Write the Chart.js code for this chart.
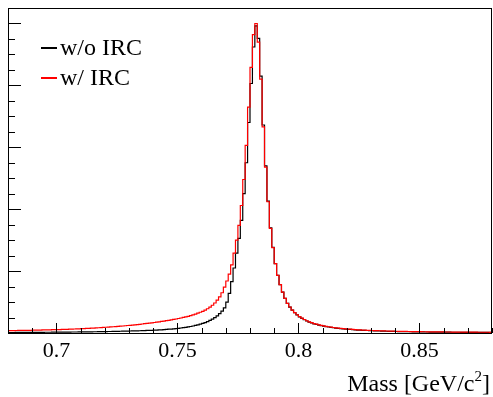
<!DOCTYPE html>
<html lang="en">
<head>
  <meta charset="UTF-8" />
  <title>Mass spectrum, w/o and w/ IRC</title>
  <script src="https://cdn.jsdelivr.net/npm/chart.js"></script>
  <style>
    body { margin: 0; background: #fff; }
    canvas { display: block; }
  </style>
</head>
<body>
  <canvas id="mass-chart" width="493" height="397"></canvas>

  <script>
    // histogram range: 200 bins of 1 MeV between 0.68 and 0.88 GeV
    const massMin = 0.68;
    const massMax = 0.88;
    const binWidth = 0.001;

    const xTickValues = [0.7, 0.75, 0.8, 0.85];
    const xTickLabels = ["0.7", "0.75", "0.8", "0.85"];
    const seriesNames = ["w/o IRC", "w/ IRC"];
    const axisTitle = "Mass [GeV/c";

    // bin contents (arbitrary units)
    const withoutIRC = [
      0.008, 0.008, 0.008, 0.009, 0.009, 0.009, 0.009, 0.010, 0.010, 0.010,
      0.010, 0.011, 0.011, 0.011, 0.011, 0.012, 0.012, 0.012, 0.013, 0.013,
      0.013, 0.014, 0.014, 0.014, 0.015, 0.015, 0.016, 0.016, 0.016, 0.017,
      0.017, 0.018, 0.018, 0.019, 0.019, 0.020, 0.020, 0.021, 0.022, 0.022,
      0.023, 0.024, 0.024, 0.025, 0.026, 0.027, 0.028, 0.029, 0.030, 0.031,
      0.032, 0.033, 0.034, 0.035, 0.036, 0.038, 0.039, 0.041, 0.042, 0.044,
      0.046, 0.048, 0.050, 0.052, 0.055, 0.058, 0.061, 0.064, 0.068, 0.072,
      0.076, 0.081, 0.086, 0.092, 0.098, 0.105, 0.113, 0.122, 0.132, 0.143,
      0.155, 0.169, 0.185, 0.203, 0.224, 0.248, 0.277, 0.312, 0.354, 0.405,
      0.500, 0.640, 0.830, 1.050, 1.290, 1.530, 1.820, 2.250, 2.750, 3.400,
      4.030, 4.620, 4.960, 4.760, 4.150, 3.360, 2.700, 2.130, 1.700, 1.385,
      1.120, 0.930, 0.780, 0.660, 0.560, 0.478, 0.418, 0.368, 0.327, 0.292,
      0.262, 0.236, 0.214, 0.194, 0.177, 0.162, 0.149, 0.138, 0.128, 0.119,
      0.111, 0.104, 0.097, 0.091, 0.085, 0.080, 0.075, 0.071, 0.067, 0.063,
      0.060, 0.057, 0.054, 0.051, 0.048, 0.046, 0.044, 0.042, 0.040, 0.038,
      0.036, 0.035, 0.033, 0.032, 0.030, 0.029, 0.028, 0.027, 0.026, 0.025,
      0.024, 0.023, 0.022, 0.022, 0.021, 0.020, 0.020, 0.019, 0.018, 0.018,
      0.017, 0.017, 0.016, 0.016, 0.015, 0.015, 0.015, 0.014, 0.014, 0.014,
      0.013, 0.013, 0.013, 0.012, 0.012, 0.012, 0.012, 0.011, 0.011, 0.011,
      0.011, 0.010, 0.010, 0.010, 0.010, 0.010, 0.009, 0.009, 0.009, 0.009
    ];

    const withIRC = [
      0.038, 0.039, 0.039, 0.040, 0.041, 0.041, 0.042, 0.043, 0.043, 0.044,
      0.045, 0.046, 0.047, 0.048, 0.049, 0.050, 0.051, 0.052, 0.053, 0.054,
      0.055, 0.056, 0.058, 0.059, 0.060, 0.062, 0.063, 0.065, 0.066, 0.068,
      0.070, 0.072, 0.074, 0.076, 0.078, 0.080, 0.082, 0.085, 0.087, 0.090,
      0.093, 0.095, 0.098, 0.101, 0.104, 0.107, 0.110, 0.113, 0.117, 0.121,
      0.124, 0.128, 0.132, 0.136, 0.140, 0.145, 0.150, 0.155, 0.160, 0.165,
      0.170, 0.175, 0.181, 0.187, 0.193, 0.199, 0.205, 0.212, 0.219, 0.226,
      0.234, 0.242, 0.251, 0.260, 0.270, 0.281, 0.293, 0.306, 0.320, 0.335,
      0.350, 0.370, 0.392, 0.418, 0.448, 0.485, 0.530, 0.585, 0.650, 0.740,
      0.840, 0.950, 1.100, 1.290, 1.500, 1.740, 2.060, 2.480, 3.030, 3.650,
      4.290, 4.820, 5.000, 4.700, 4.100, 3.330, 2.680, 2.120, 1.690, 1.380,
      1.120, 0.930, 0.780, 0.660, 0.560, 0.480, 0.420, 0.370, 0.330, 0.295,
      0.265, 0.240, 0.218, 0.198, 0.181, 0.166, 0.153, 0.142, 0.132, 0.123,
      0.115, 0.108, 0.101, 0.095, 0.089, 0.084, 0.079, 0.075, 0.071, 0.067,
      0.064, 0.061, 0.058, 0.055, 0.052, 0.050, 0.048, 0.046, 0.044, 0.042,
      0.040, 0.039, 0.037, 0.036, 0.034, 0.033, 0.032, 0.031, 0.030, 0.029,
      0.028, 0.027, 0.026, 0.025, 0.025, 0.024, 0.023, 0.023, 0.022, 0.021,
      0.021, 0.020, 0.020, 0.019, 0.019, 0.018, 0.018, 0.017, 0.017, 0.017,
      0.016, 0.016, 0.016, 0.015, 0.015, 0.015, 0.014, 0.014, 0.014, 0.014,
      0.013, 0.013, 0.013, 0.013, 0.012, 0.012, 0.012, 0.012, 0.012, 0.011
    ];

    const yMax = 5.25;
    const serif = '"Liberation Serif", "Times New Roman", serif';
    const seriesColors = ["#000000", "#ff0000"];

    // step outline: one point per lower bin edge, plus the upper edge of the last bin
    function histPoints(values) {
      const pts = values.map((v, i) => ({ x: massMin + i * binWidth, y: v }));
      pts.push({ x: massMax, y: values[values.length - 1] });
      return pts;
    }

    // ROOT style frame: box, inward ticks, serif labels, legend in the corner
    const rootFrame = {
      id: "rootFrame",
      afterDraw(chart) {
        const { ctx, chartArea: a, scales: { x, y } } = chart;
        ctx.save();
        ctx.strokeStyle = "#000";
        ctx.lineWidth = 1;
        ctx.strokeRect(a.left + 0.5, a.top + 0.5, a.right - a.left - 1, a.bottom - a.top);

        ctx.beginPath();
        for (let i = 0; i <= 20; i++) {
          const px = Math.round(x.getPixelForValue(massMin + i * 0.01)) + 0.5;
          const len = (i + 3) % 5 === 0 ? 10 : 5;
          ctx.moveTo(px, a.bottom);
          ctx.lineTo(px, a.bottom - len);
        }
        for (let i = 0; i <= 21; i++) {
          const py = Math.round(y.getPixelForValue(i * 0.25)) + 0.5;
          const len = i % 4 === 0 ? 13 : 7;
          ctx.moveTo(a.left, py);
          ctx.lineTo(a.left + len, py);
        }
        ctx.stroke();

        ctx.fillStyle = "#000";
        ctx.font = "22px " + serif;
        ctx.textAlign = "center";
        ctx.textBaseline = "alphabetic";
        xTickValues.forEach((v, i) => {
          ctx.fillText(xTickLabels[i], x.getPixelForValue(v), 357);
        });

        // axis title, right aligned, with a raised 2
        ctx.textAlign = "right";
        ctx.font = "24px " + serif;
        let tx = a.right - 2;
        ctx.fillText("]", tx, 391);
        tx -= ctx.measureText("]").width;
        ctx.font = "15px " + serif;
        ctx.fillText("2", tx, 381);
        tx -= ctx.measureText("2").width;
        ctx.font = "24px " + serif;
        ctx.fillText(axisTitle, tx, 391);

        // legend
        const rows = [55, 85];
        ctx.textAlign = "left";
        ctx.font = "24px " + serif;
        seriesNames.forEach((name, i) => {
          ctx.fillStyle = seriesColors[i];
          ctx.fillRect(41, rows[i] - 8, 16, 2);
          ctx.fillStyle = "#000";
          ctx.fillText(name, 60, rows[i]);
        });
        ctx.restore();
      }
    };

    new Chart(document.getElementById("mass-chart"), {
      type: "line",
      data: {
        datasets: [
          {
            label: seriesNames[1],
            data: histPoints(withIRC),
            borderColor: seriesColors[1],
            borderWidth: 1.2,
            stepped: "before",
            pointRadius: 0,
            fill: false
          },
          {
            label: seriesNames[0],
            data: histPoints(withoutIRC),
            borderColor: seriesColors[0],
            borderWidth: 1.2,
            stepped: "before",
            pointRadius: 0,
            fill: false
          }
        ]
      },
      options: {
        responsive: false,
        animation: false,
        layout: { padding: { left: 8, top: 8, right: 1, bottom: 64 } },
        scales: {
          x: { type: "linear", min: massMin, max: massMax, display: false },
          y: { min: 0, max: yMax, display: false }
        },
        plugins: { legend: { display: false }, tooltip: { enabled: false } }
      },
      plugins: [rootFrame]
    });
  </script>
</body>
</html>
